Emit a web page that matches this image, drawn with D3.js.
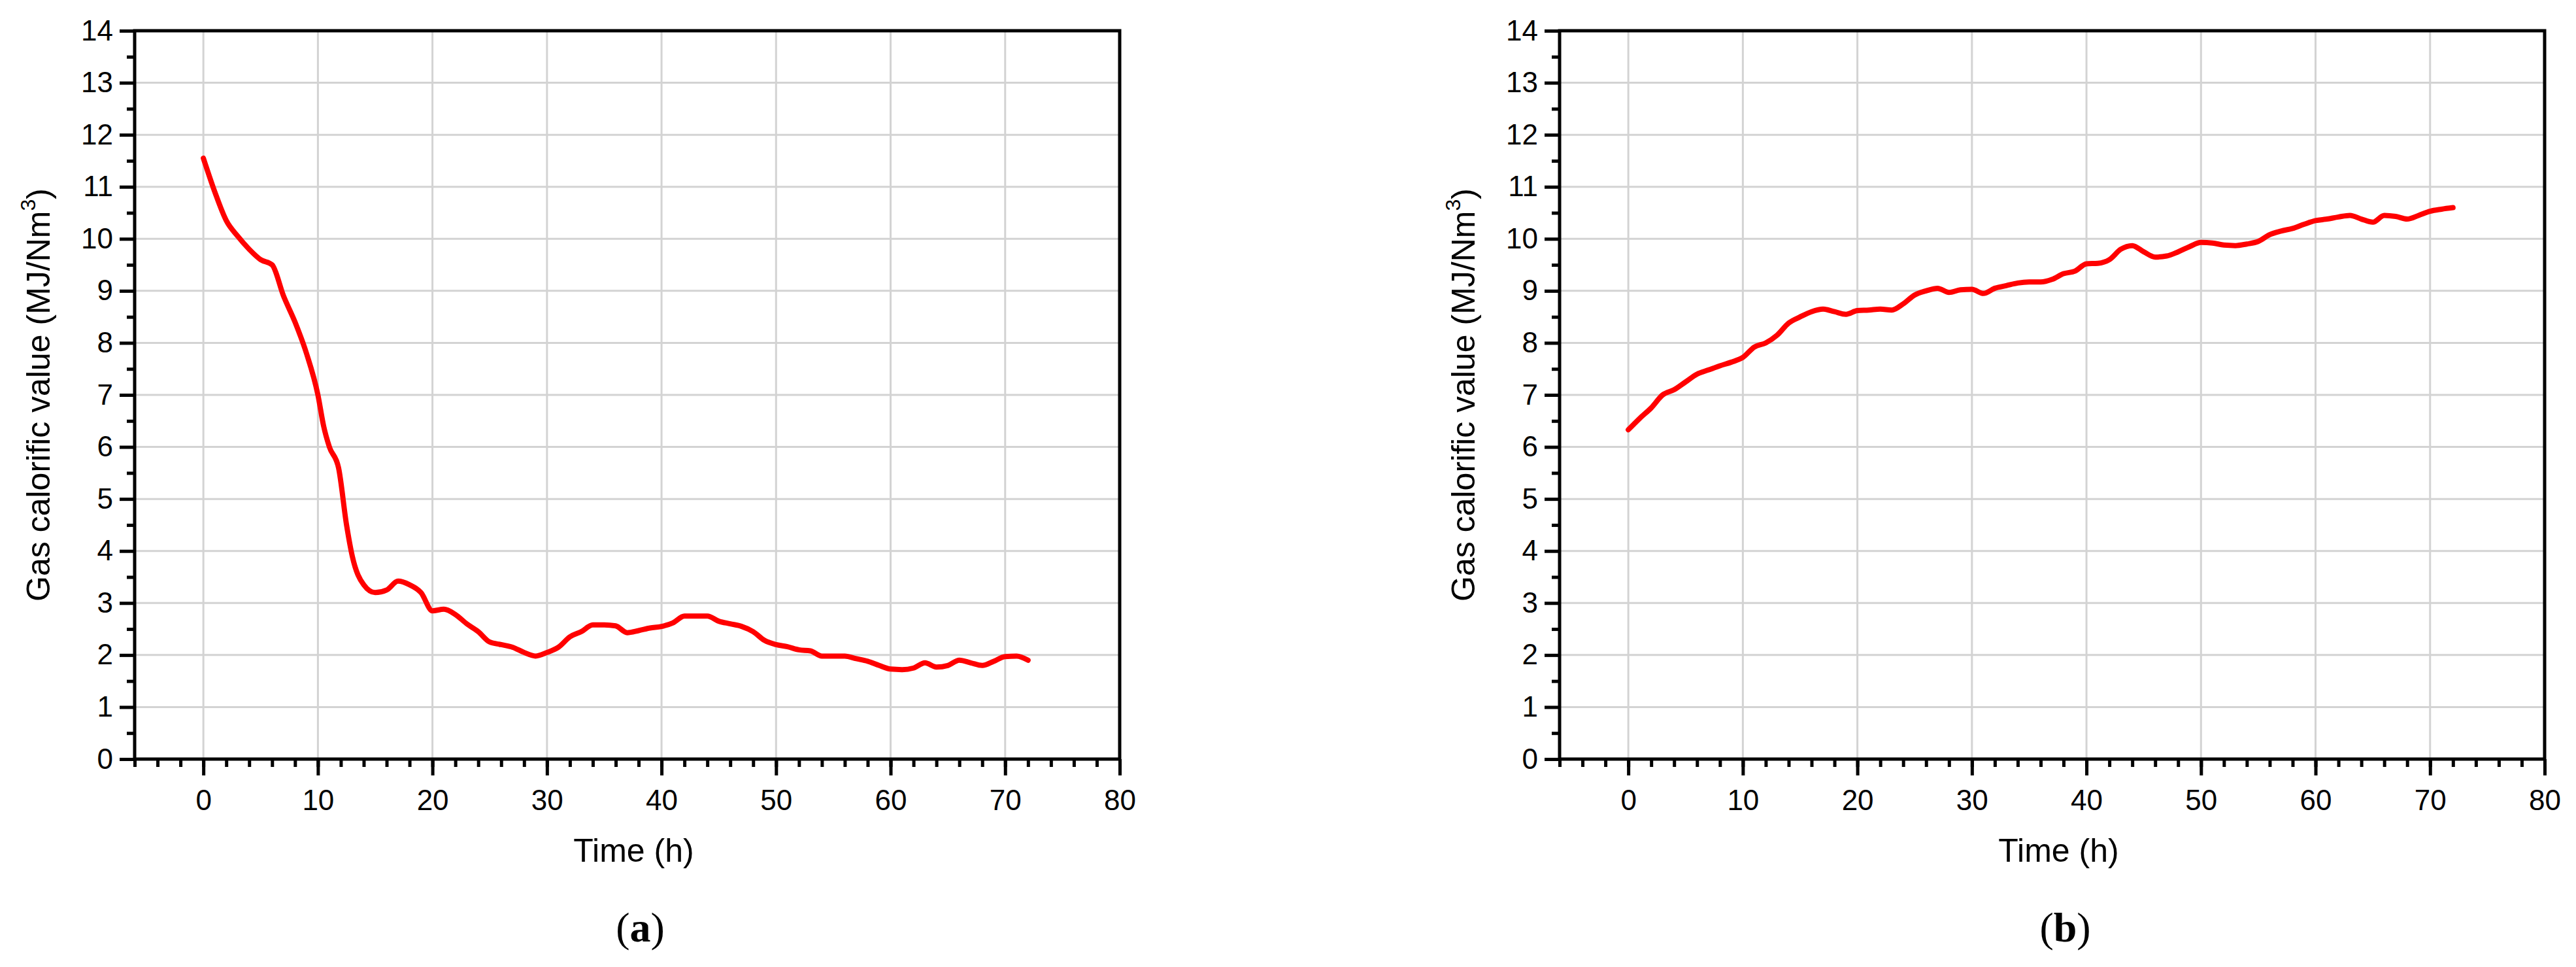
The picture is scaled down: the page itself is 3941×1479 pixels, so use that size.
<!DOCTYPE html>
<html>
<head>
<meta charset="utf-8">
<script src="https://cdn.jsdelivr.net/npm/d3@7"></script>
<style>
  body { margin: 0; background: #fff; }
  text { font-family: "Liberation Sans", Arial, sans-serif; }
</style>
</head>
<body>
<div id="chart"></div>
<script>
// time (h)
const timeA = [0,1,2,3,4,5,6,7,8,9,10,10.5,11,11.8,12.5,13,14,15,16,17,18,19,20,21,22,23,24,25,26,27,28,29,30,31,32,33,34,35,36,37,38,39,40,41,42,43,44,45,46,47,48,49,50,51,52,53,54,55,56,57,58,59,60,61,62,63,64,65,66,67,68,69,70,71,72];
const valueA = [11.55,10.9,10.35,10.05,9.8,9.6,9.5,8.9,8.4,7.8,7.0,6.4,6.0,5.6,4.5,3.9,3.35,3.2,3.25,3.42,3.35,3.2,2.85,2.88,2.78,2.6,2.45,2.25,2.2,2.15,2.05,1.98,2.05,2.15,2.35,2.45,2.58,2.58,2.56,2.43,2.47,2.52,2.55,2.62,2.75,2.75,2.75,2.65,2.6,2.55,2.45,2.28,2.2,2.16,2.1,2.08,1.98,1.98,1.98,1.93,1.88,1.8,1.73,1.72,1.75,1.85,1.77,1.8,1.9,1.85,1.8,1.88,1.97,1.98,1.9];

const timeB = d3.range(0, 73); // hourly readings 0..72
const valueB = [6.33,6.55,6.75,7.0,7.1,7.25,7.4,7.48,7.56,7.63,7.72,7.92,8.0,8.15,8.38,8.5,8.6,8.65,8.6,8.55,8.62,8.63,8.65,8.63,8.75,8.92,9.0,9.05,8.97,9.02,9.03,8.95,9.05,9.1,9.15,9.17,9.17,9.22,9.33,9.38,9.52,9.53,9.6,9.8,9.87,9.75,9.65,9.67,9.75,9.85,9.93,9.92,9.88,9.87,9.9,9.95,10.08,10.15,10.2,10.28,10.35,10.38,10.42,10.45,10.38,10.32,10.45,10.43,10.38,10.45,10.53,10.57,10.6];

const xTicks = [0,10,20,30,40,50,60,70,80];
const yTicks = [0,1,2,3,4,5,6,7,8,9,10,11,12,13,14];

const W = 3941, H = 1479;
const svg = d3.select("#chart").append("svg").attr("width", W).attr("height", H);

function panel(left, xs, ys, label) {
  const top = 47, bottom = 1161, right = left + 1507;
  const x = d3.scaleLinear().domain([-6, 80]).range([left, right]);
  const y = d3.scaleLinear().domain([0, 14]).range([bottom, top]);
  const g = svg.append("g");

  // grid
  g.append("g").selectAll("line").data(xTicks.slice(0, -1)).join("line")
    .attr("x1", d => x(d)).attr("x2", d => x(d)).attr("y1", top).attr("y2", bottom)
    .attr("stroke", "#d3d3d3").attr("stroke-width", 3);
  g.append("g").selectAll("line").data(yTicks.slice(1, -1)).join("line")
    .attr("x1", left).attr("x2", right).attr("y1", d => y(d)).attr("y2", d => y(d))
    .attr("stroke", "#d3d3d3").attr("stroke-width", 3);

  // axes
  const xAxis = g.append("g").attr("transform", `translate(0,${bottom})`)
    .call(d3.axisBottom(x).tickValues(d3.range(-6, 81, 2)).tickSize(12).tickFormat(""));
  const xMajor = g.append("g").attr("transform", `translate(0,${bottom})`)
    .call(d3.axisBottom(x).tickValues(xTicks).tickSize(25).tickPadding(22));
  const yAxis = g.append("g").attr("transform", `translate(${left},0)`)
    .call(d3.axisLeft(y).tickValues(d3.range(0.5, 14, 1)).tickSize(12).tickFormat(""));
  const yMajor = g.append("g").attr("transform", `translate(${left},0)`)
    .call(d3.axisLeft(y).tickValues(yTicks).tickSize(23).tickPadding(10));
  [xAxis, xMajor, yAxis, yMajor].forEach(a => {
    a.select(".domain").remove();
    a.selectAll("line").attr("stroke", "#000").attr("stroke-width", 5);
    a.selectAll("text").attr("font-size", 44).attr("fill", "#000");
  });

  g.append("rect").attr("x", left).attr("y", top).attr("width", right - left).attr("height", bottom - top)
    .attr("fill", "none").attr("stroke", "#000").attr("stroke-width", 5);

  // series
  g.append("path").datum(xs.map((t, i) => [t, ys[i]]))
    .attr("d", d3.line().x(d => x(d[0])).y(d => y(d[1])).curve(d3.curveMonotoneX))
    .attr("fill", "none").attr("stroke", "#ff0000").attr("stroke-width", 8)
    .attr("stroke-linejoin", "round").attr("stroke-linecap", "round");

  // titles
  g.append("text").attr("x", (left + right) / 2 + 10).attr("y", 1318).attr("text-anchor", "middle")
    .attr("font-size", 50).text("Time (h)");
  const yt = g.append("text").attr("transform", `translate(${left - 130},${(top + bottom) / 2}) rotate(-90)`)
    .attr("text-anchor", "middle").attr("font-size", 50);
  yt.append("tspan").text("Gas calorific value (MJ/Nm");
  yt.append("tspan").attr("font-size", 32).attr("dy", -22).text("3");
  yt.append("tspan").attr("dy", 22).text(")");

  const cap = g.append("text").attr("x", (left + right) / 2 + 20).attr("y", 1440).attr("text-anchor", "middle")
    .attr("font-size", 64).style("font-family", "'Liberation Serif', serif");
  cap.append("tspan").text("(");
  cap.append("tspan").attr("font-weight", "bold").text(label);
  cap.append("tspan").text(")");
}

panel(206, timeA, valueA, "a");
panel(2386, timeB, valueB, "b");
</script>
</body>
</html>
